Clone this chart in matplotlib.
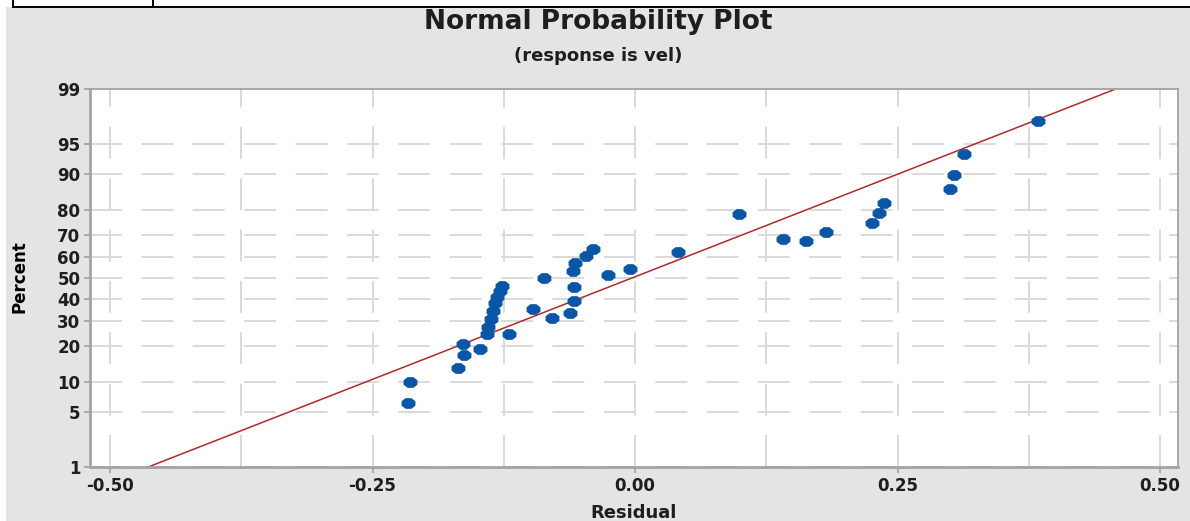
"""Normal probability plot of the residuals for the vel response.

Residuals are drawn against their plotting percentages on a normal-quantile
percent axis, together with the fitted normal reference line.
"""

from statistics import NormalDist

import matplotlib

matplotlib.use("Agg")
import matplotlib.pyplot as plt
import numpy as np
from matplotlib.lines import Line2D
from matplotlib.patches import Rectangle
from matplotlib.ticker import FixedLocator, MultipleLocator, NullLocator

# residual / plotting percentage for each observation
RESIDUAL = [
    -0.216, -0.214, -0.169, -0.163, -0.164, -0.148, -0.141, -0.140, -0.137,
    -0.135, -0.133, -0.131, -0.129, -0.127, -0.120, -0.097, -0.087, -0.079,
    -0.062, -0.058, -0.058, -0.059, -0.057, -0.047, -0.040, -0.026, -0.005,
    0.041, 0.099, 0.141, 0.163, 0.182, 0.226, 0.232, 0.237, 0.300, 0.304,
    0.313, 0.384,
]
PERCENT = [
    6.2, 10.0, 13.4, 17.2, 20.8, 19.1, 24.5, 27.3, 30.7,
    34.2, 37.9, 40.7, 43.6, 46.1, 24.5, 35.1, 50.0, 31.2,
    33.3, 38.9, 45.6, 53.4, 57.3, 60.7, 63.9, 51.5, 54.4,
    62.6, 78.5, 68.4, 67.5, 71.4, 75.1, 78.8, 82.2, 86.3, 89.8,
    93.7, 97.3,
]

# fitted normal reference line
LINE_MEAN = -0.003
LINE_SD = 0.198

PCT_TICKS = [1, 5, 10, 20, 30, 40, 50, 60, 70, 80, 90, 95, 99]
X_TICKS = [-0.50, -0.25, 0.00, 0.25, 0.50]

BG = "#E4E4E4"
GRID = "#D9D9D9"
SPINE = "#A3A3A3"
TEXT = "#1E1E1E"
POINT = "#0A56A6"
FIT = "#B02A2A"

_STD = NormalDist()
_ppf = np.vectorize(_STD.inv_cdf, otypes=[float])
_cdf = np.vectorize(_STD.cdf, otypes=[float])


def pct_to_z(p):
    p = np.clip(np.asarray(p, dtype=float) / 100.0, 1e-9, 1 - 1e-9)
    return _ppf(p)


def z_to_pct(z):
    return _cdf(np.asarray(z, dtype=float)) * 100.0


def octagon(stretch=1.3):
    ang = np.deg2rad(22.5 + 45 * np.arange(8))
    return list(zip(stretch * np.cos(ang), np.sin(ang)))


def main():
    plt.rcParams["lines.scale_dashes"] = False
    plt.rcParams["font.family"] = "DejaVu Sans"

    W, H = 1190, 521
    fig = plt.figure(figsize=(W / 100, H / 100), dpi=100, facecolor="white")

    # grey chart panel with the surrounding table cell borders
    fig.add_artist(Rectangle((6 / W, 0), 1 - 6 / W, 1 - 7 / H,
                             transform=fig.transFigure, facecolor=BG,
                             edgecolor="none", zorder=0))
    fig.add_artist(Line2D([13 / W, 1], [1 - 7 / H, 1 - 7 / H],
                          transform=fig.transFigure, color="black", lw=1.4))
    for xp in (13, 153):
        fig.add_artist(Line2D([xp / W, xp / W], [1 - 7 / H, 1],
                              transform=fig.transFigure, color="black", lw=1.4))

    ax = fig.add_axes([90 / W, 54 / H, 1088 / W, 378 / H])
    ax.set_facecolor("white")
    ax.set_yscale("function", functions=(pct_to_z, z_to_pct))
    ax.set_ylim(1, 99)
    ax.set_xlim(-0.519, 0.517)

    ax.yaxis.set_major_locator(FixedLocator(PCT_TICKS))
    ax.yaxis.set_minor_locator(NullLocator())
    ax.set_yticklabels([str(t) for t in PCT_TICKS])
    ax.xaxis.set_major_locator(FixedLocator(X_TICKS))
    ax.xaxis.set_minor_locator(MultipleLocator(0.125))
    ax.set_xticklabels([f"{t:.2f}" for t in X_TICKS])

    ax.set_axisbelow(True)
    dash = (0, (23, 14))
    ax.grid(True, axis="y", which="major", color=GRID, lw=1.4, linestyle=dash)
    ax.grid(True, axis="x", which="both", color=GRID, lw=1.4, linestyle=dash)

    for side, sp in ax.spines.items():
        sp.set_color(SPINE)
        sp.set_linewidth(2.0 if side in ("left", "bottom") else 1.3)

    ax.tick_params(axis="both", which="major", length=4, width=1.3,
                   color=SPINE, labelcolor=TEXT, labelsize=12, pad=3)
    ax.tick_params(axis="x", which="minor", length=0)
    for lab in ax.get_xticklabels() + ax.get_yticklabels():
        lab.set_fontweight("bold")

    # reference line spans the full percent range of the axis
    fit = NormalDist(LINE_MEAN, LINE_SD)
    ends = [PCT_TICKS[0], PCT_TICKS[-1]]
    ax.plot([fit.inv_cdf(p / 100) for p in ends], ends, color=FIT, lw=1.1,
            zorder=2, clip_on=False)

    ax.plot(RESIDUAL, PERCENT, linestyle="none", marker=octagon(),
            markersize=10, color=POINT, markeredgewidth=0, zorder=3)

    fig.text(0.503, 1 - 22 / H, "Normal Probability Plot", ha="center",
             va="center", fontsize=19, fontweight="bold", color=TEXT)
    fig.text(0.503, 1 - 56 / H, "(response is vel)", ha="center",
             va="center", fontsize=13, fontweight="bold", color=TEXT)
    fig.text(634 / W, 1 - 513 / H, "Residual", ha="center", va="center",
             fontsize=13, fontweight="bold", color=TEXT)
    fig.text(20 / W, 1 - 277 / H, "Percent", ha="center", va="center",
             rotation=90, fontsize=12, fontweight="bold", color="black")

    fig.savefig("out.png", dpi=100, facecolor=fig.get_facecolor())


if __name__ == "__main__":
    main()
